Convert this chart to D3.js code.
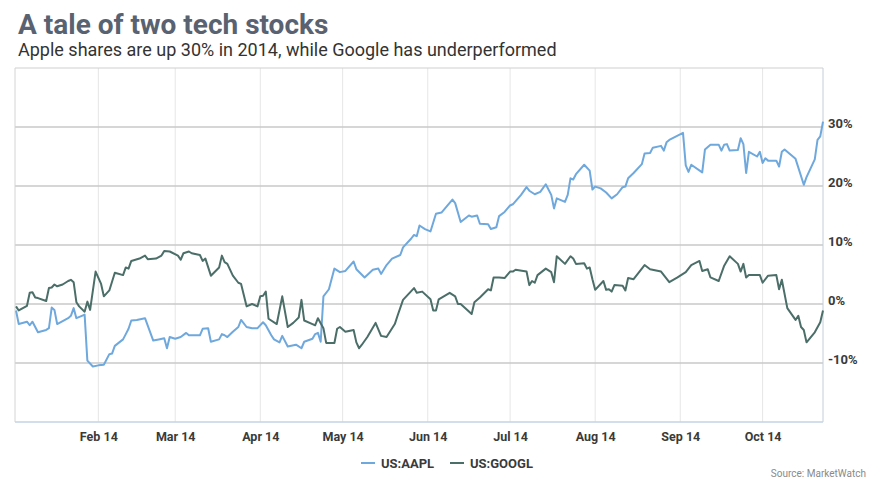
<!DOCTYPE html>
<html>
<head>
<meta charset="utf-8">
<script src="https://cdn.jsdelivr.net/npm/d3@7"></script>
<style>
  body { margin: 0; background: #fff; }
  svg text { font-family: Roboto, "Noto Sans", sans-serif; }
</style>
</head>
<body>
<script>
/* Values: % change since the start of 2014 */
var aaplDates = [
  "01-02","01-03","01-06","01-07","01-08","01-10","01-13","01-14","01-15","01-16","01-17","01-21","01-22","01-23","01-24","01-26","01-27","01-28","01-30",
  "02-01","02-03","02-05","02-06","02-07","02-10","02-11","02-12","02-13","02-15","02-18","02-21","02-23","02-25","02-26","02-27",
  "03-01","03-03","03-05","03-06","03-10","03-11","03-13","03-14","03-17","03-18","03-19","03-20","03-22","03-24","03-25","03-27","03-29","03-31",
  "04-02","04-03","04-05","04-06","04-08","04-09","04-11","04-14","04-16","04-17","04-20","04-21","04-22","04-23","04-24","04-26","04-28","04-30",
  "05-02","05-05","05-06","05-09","05-12","05-14","05-15","05-17","05-19","05-22","05-23","05-26","05-27","05-28","05-29","05-31",
  "06-02","06-04","06-06","06-08","06-10","06-11","06-13","06-16","06-17","06-19","06-20","06-23","06-24","06-26","06-27","06-29",
  "07-01","07-02","07-05","07-07","07-08","07-10","07-12","07-14","07-16","07-17","07-18","07-21","07-22","07-23","07-24","07-25","07-28","07-30","07-31",
  "08-01","08-03","08-05","08-07","08-09","08-11","08-12","08-13","08-15","08-18","08-19","08-21","08-22","08-25","08-26","08-27","08-28",
  "09-02","09-03","09-04","09-05","09-09","09-10","09-12","09-15","09-16","09-17","09-18","09-19","09-22","09-23","09-24","09-25","09-26","09-29","09-30",
  "10-01","10-02","10-03","10-06","10-07","10-08","10-09","10-13","10-16","10-17","10-20","10-21","10-22","10-23"
];
var aaplValues = [
  -1.1,-3.4,-3.0,-3.6,-3.0,-4.8,-4.4,-4.1,-0.6,-1.0,-3.4,-2.4,-2.0,-0.7,-2.4,-2.0,-1.8,-9.6,-10.6,
  -10.4,-10.3,-8.5,-8.4,-7.1,-6.0,-5.1,-4.2,-2.8,-2.7,-2.4,-6.2,-6.0,-5.8,-7.5,-5.6,
  -5.9,-5.6,-4.9,-5.3,-5.3,-4.2,-4.1,-6.4,-6.0,-5.1,-5.3,-5.6,-4.7,-3.9,-2.7,-3.9,-4.1,-4.1,
  -3.1,-3.6,-5.3,-6.0,-6.5,-5.4,-7.2,-6.9,-7.5,-6.4,-5.9,-5.1,-4.9,-6.4,1.3,2.5,6.0,5.4,
  5.6,7.2,5.9,4.5,5.8,6.0,5.1,6.6,7.7,8.3,9.6,11.1,11.7,11.5,13.3,12.7,
  12.3,15.3,15.5,16.6,17.7,17.1,13.9,15.0,14.8,15.0,13.6,13.5,12.7,13.0,14.9,15.6,
  16.7,16.9,18.5,19.8,19.2,18.6,19.0,20.3,18.5,16.2,17.9,17.3,18.5,21.3,21.1,22.0,23.6,22.6,19.4,
  19.9,19.6,18.9,17.9,18.6,19.8,19.9,21.3,22.2,23.7,25.5,25.6,26.5,26.8,26.0,27.4,27.8,
  29.0,23.5,22.4,23.6,22.3,26.2,27.0,27.0,26.0,27.0,27.1,26.0,26.1,28.1,27.1,22.2,25.8,25.0,25.8,
  23.9,24.7,24.3,24.3,23.3,25.8,26.2,24.6,20.2,21.5,24.5,27.8,28.4,30.9
];

var googDates = [
  "01-02","01-03","01-06","01-07","01-08","01-09","01-10","01-13","01-14","01-15","01-16","01-17","01-19","01-21","01-22","01-23","01-24","01-25","01-27","01-28","01-29","01-31",
  "02-02","02-03","02-05","02-07","02-10","02-11","02-12","02-13","02-16","02-18","02-19","02-22","02-24","02-25","02-27",
  "03-02","03-03","03-04","03-06","03-07","03-10","03-11","03-12","03-14","03-17","03-18","03-19","03-20","03-22","03-24","03-25","03-27","03-29","03-31",
  "04-01","04-02","04-03","04-04","04-07","04-09","04-11","04-13","04-15","04-16","04-17","04-20","04-21","04-22","04-24","04-25","04-28","04-29","04-30",
  "05-02","05-05","05-06","05-07","05-08","05-10","05-13","05-15","05-17","05-20","05-21","05-23","05-27","05-28","05-30",
  "06-02","06-03","06-04","06-05","06-09","06-11","06-12","06-13","06-17","06-18","06-20","06-23","06-24","06-25","06-27","06-29",
  "07-01","07-02","07-03","07-07","07-08","07-09","07-10","07-11","07-14","07-16","07-17","07-18","07-21","07-23","07-24","07-25","07-28","07-29","07-30","07-31",
  "08-01","08-04","08-05","08-06","08-07","08-08","08-11","08-12","08-13","08-15","08-19","08-21","08-25","08-28","08-31",
  "09-03","09-05","09-08","09-09","09-11","09-12","09-15","09-17","09-19","09-22","09-23","09-24","09-25","09-26","09-30",
  "10-01","10-03","10-06","10-07","10-08","10-10","10-13","10-14","10-15","10-16","10-17","10-20","10-22","10-23"
];
var googValues = [
  -0.4,-1.1,-0.3,1.9,2.0,1.1,1.0,0.5,2.7,2.8,3.3,3.0,3.3,3.9,4.1,3.7,0.3,-0.4,-1.3,0.4,-1.0,5.5,
  3.4,1.3,2.3,5.3,4.9,6.2,6.0,7.3,7.7,8.2,7.6,7.7,8.2,9.0,8.9,
  8.2,7.5,8.6,8.9,8.6,8.3,7.3,7.7,4.8,6.2,8.2,7.1,6.8,4.8,3.6,3.4,-0.4,0.0,-0.4,
  1.3,1.4,2.1,-2.5,-3.4,1.3,-3.9,-3.2,-2.3,0.7,-2.8,-3.4,-3.6,-2.4,-4.1,-6.6,-6.6,-4.2,-3.9,
  -4.7,-4.4,-6.5,-7.5,-6.9,-5.6,-3.2,-5.4,-5.6,-3.4,-2.0,0.7,2.7,1.9,2.1,
  0.8,-1.1,-1.1,0.8,1.9,1.3,0.0,0.0,-1.7,0.3,1.1,2.5,2.3,4.5,4.5,4.4,
  5.5,5.5,5.8,5.5,3.2,3.9,3.6,4.9,6.0,5.4,3.7,8.1,6.8,8.1,7.7,6.8,6.9,6.0,6.2,4.2,
  2.4,3.9,2.4,2.5,2.1,3.2,3.1,2.3,4.4,4.2,6.6,5.9,5.5,3.7,4.5,
  5.4,6.6,7.3,5.6,5.9,4.5,3.9,6.5,8.1,6.8,5.5,6.8,4.5,4.9,4.9,
  3.6,4.8,4.9,2.5,4.1,-0.7,-2.7,-2.0,-3.9,-4.4,-6.5,-4.8,-3.1,-1.1
];

var seriesNames = ["US:AAPL", "US:GOOGL"];
var seriesColors = ["#6fa8dc", "#4b6e68"];
var yTicks = [-10, 0, 10, 20, 30];
var monthTicks = ["2014-02-01","2014-03-01","2014-04-01","2014-05-01","2014-06-01","2014-07-01","2014-08-01","2014-09-01","2014-10-01"];

var width = 880, height = 495;
var plot = {left: 15, right: 823, top: 68, bottom: 422};

var svg = d3.select("body").append("svg")
    .attr("width", width)
    .attr("height", height);

var parseDay = d3.timeParse("%Y-%m-%d");

var x = d3.scaleTime()
    .domain([parseDay("2014-01-02"), parseDay("2014-10-23")])
    .range([16, plot.right]);
var y = d3.scaleLinear().domain([-20, 40]).range([plot.bottom, plot.top]);

/* Title and subtitle */
svg.append("text")
    .attr("x", 18).attr("y", 34)
    .style("font-size", "28px").style("font-weight", "bold")
    .attr("fill", "#596270")
    .text("A tale of two tech stocks");
svg.append("text")
    .attr("x", 18).attr("y", 56)
    .style("font-size", "18px")
    .attr("fill", "#333")
    .text("Apple shares are up 30% in 2014, while Google has underperformed");

/* Grid */
var months = monthTicks.map(parseDay);
svg.append("g").selectAll("line")
    .data(months)
    .enter().append("line")
    .attr("x1", function(d) { return x(d); })
    .attr("x2", function(d) { return x(d); })
    .attr("y1", plot.top).attr("y2", plot.bottom)
    .attr("stroke", "#e6e6e6").attr("stroke-width", 1);

svg.append("g").selectAll("line")
    .data(yTicks)
    .enter().append("line")
    .attr("x1", plot.left).attr("x2", plot.right)
    .attr("y1", function(d) { return y(d); })
    .attr("y2", function(d) { return y(d); })
    .attr("stroke", "#c8c8c8").attr("stroke-width", 1.5);

/* Frame */
svg.append("line").attr("x1", plot.left).attr("x2", plot.right).attr("y1", plot.top).attr("y2", plot.top)
    .attr("stroke", "#cfcfcf");
svg.append("line").attr("x1", plot.left).attr("x2", plot.left).attr("y1", plot.top).attr("y2", plot.bottom)
    .attr("stroke", "#d4d4d4");
svg.append("line").attr("x1", plot.right).attr("x2", plot.right).attr("y1", plot.top).attr("y2", plot.bottom)
    .attr("stroke", "#c3cedb");
svg.append("line").attr("x1", plot.left).attr("x2", plot.right).attr("y1", plot.bottom).attr("y2", plot.bottom)
    .attr("stroke", "#c3d3e4").attr("stroke-width", 1.5);

/* Axes */
var xAxis = d3.axisBottom(x)
    .tickValues(months)
    .tickFormat(d3.timeFormat("%b %y"))
    .tickSize(0).tickPadding(10);
var gx = svg.append("g")
    .attr("transform", "translate(0," + plot.bottom + ")")
    .call(xAxis);
gx.select(".domain").remove();
gx.selectAll("text")
    .style("font-family", "Roboto, sans-serif")
    .style("font-size", "12.5px").style("font-weight", "bold")
    .attr("fill", "#3a3a3a");

var yAxis = d3.axisRight(y)
    .tickValues(yTicks)
    .tickFormat(function(d) { return d + "%"; })
    .tickSize(0).tickPadding(5);
var gy = svg.append("g")
    .attr("transform", "translate(" + plot.right + ",0)")
    .call(yAxis);
gy.select(".domain").remove();
gy.selectAll("text")
    .attr("dy", "0.05em")
    .style("font-family", "Roboto, sans-serif")
    .style("font-size", "13px").style("font-weight", "bold")
    .attr("fill", "#3a3a3a");

/* Lines */
function toPoints(dates, values) {
    return dates.map(function(d, i) { return {date: parseDay("2014-" + d), value: values[i]}; });
}
var series = [toPoints(aaplDates, aaplValues), toPoints(googDates, googValues)];

var line = d3.line()
    .x(function(d) { return x(d.date); })
    .y(function(d) { return y(d.value); });

svg.append("g").selectAll("path")
    .data(series)
    .enter().append("path")
    .attr("fill", "none")
    .attr("stroke", function(d, i) { return seriesColors[i]; })
    .attr("stroke-width", 2)
    .attr("stroke-linejoin", "round")
    .attr("d", line);

/* Legend */
var legendX = [361, 450];
var legend = svg.append("g").selectAll("g")
    .data(seriesNames)
    .enter().append("g")
    .attr("transform", function(d, i) { return "translate(" + legendX[i] + ",463)"; });
legend.append("line")
    .attr("x1", 0).attr("x2", 14)
    .attr("stroke", function(d, i) { return seriesColors[i]; })
    .attr("stroke-width", 2);
legend.append("text")
    .attr("x", 20).attr("dy", "0.36em")
    .style("font-size", "13px").style("font-weight", "bold")
    .attr("fill", "#3a3a3a")
    .text(function(d) { return d; });

/* Source */
svg.append("text")
    .attr("x", 866).attr("y", 477)
    .attr("text-anchor", "end")
    .style("font-size", "10px")
    .attr("fill", "#8a8a8a")
    .text("Source: MarketWatch");
</script>
</body>
</html>
